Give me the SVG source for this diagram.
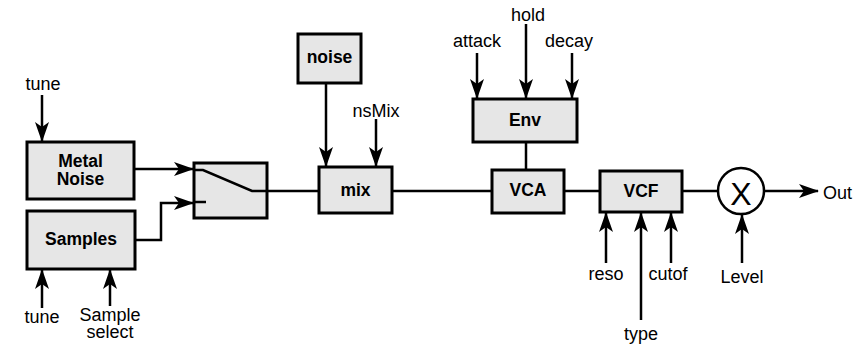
<svg xmlns="http://www.w3.org/2000/svg" width="866" height="349" viewBox="0 0 866 349">
<style>
.box{fill:#e6e6e6;stroke:#000;stroke-width:3}
.ln{fill:none;stroke:#000;stroke-width:2.5}
.bl{font-family:"Liberation Sans",Arial,sans-serif;font-weight:bold;font-size:17.5px;text-anchor:middle}
.lb{font-family:"Liberation Sans",Arial,sans-serif;font-size:18px;text-anchor:middle}
</style>
<defs>
<marker id="ah" markerUnits="userSpaceOnUse" markerWidth="22" markerHeight="16" refX="19" refY="7" orient="auto">
<path d="M0,0 L20,7 L0,14 L5,7 Z" fill="#000"/>
</marker>
</defs>
<rect width="866" height="349" fill="#fff"/>
<g id="connectors">
<path class="ln" d="M42,95 V141" marker-end="url(#ah)"/>
<path class="ln" d="M134,169 H193" marker-end="url(#ah)"/>
<path class="ln" d="M135,240 H161 V203 H193" marker-end="url(#ah)"/>
<path class="ln" d="M42,308 V270" marker-end="url(#ah)"/>
<path class="ln" d="M110,306 V270" marker-end="url(#ah)"/>
<path class="ln" d="M252,191 H319"/>
<path class="ln" d="M326,83 V166" marker-end="url(#ah)"/>
<path class="ln" d="M376,119 V166" marker-end="url(#ah)"/>
<path class="ln" d="M392,191 H492"/>
<path class="ln" d="M477,53 V98" marker-end="url(#ah)"/>
<path class="ln" d="M526,24 V98" marker-end="url(#ah)"/>
<path class="ln" d="M572,53 V98" marker-end="url(#ah)"/>
<path class="ln" d="M526,142 V170"/>
<path class="ln" d="M564,191 H600"/>
<path class="ln" d="M682,191 H718"/>
<path class="ln" d="M764,191 H818" marker-end="url(#ah)"/>
<path class="ln" d="M606,263 V213" marker-end="url(#ah)"/>
<path class="ln" d="M641,320 V213" marker-end="url(#ah)"/>
<path class="ln" d="M671,263 V213" marker-end="url(#ah)"/>
<path class="ln" d="M742,263 V215" marker-end="url(#ah)"/>
</g>
<g id="metal-noise">
<rect class="box" x="27" y="142" width="107" height="57"/>
<text class="bl" x="80.5" y="167">Metal</text>
<text class="bl" x="80.5" y="185">Noise</text>
</g>
<g id="samples">
<rect class="box" x="27" y="211" width="108" height="58"/>
<text class="bl" x="81" y="245">Samples</text>
</g>
<g id="switch">
<rect class="box" x="194" y="163" width="73" height="55"/>
<path class="ln" d="M194,170 H203 L252,191 H267"/>
<path class="ln" d="M194,202 H206"/>
</g>
<g id="noise">
<rect class="box" x="298" y="34" width="63" height="49"/>
<text class="bl" x="329.5" y="63">noise</text>
</g>
<g id="mix">
<rect class="box" x="319" y="167" width="73" height="46"/>
<text class="bl" x="355.5" y="196">mix</text>
</g>
<g id="env">
<rect class="box" x="473" y="99" width="104" height="43"/>
<text class="bl" x="525" y="126">Env</text>
</g>
<g id="vca">
<rect class="box" x="492" y="170" width="72" height="43"/>
<text class="bl" x="528" y="196">VCA</text>
</g>
<g id="vcf">
<rect class="box" x="600" y="171" width="82" height="41"/>
<text class="bl" x="641" y="197">VCF</text>
</g>
<g id="multiplier">
<circle cx="741" cy="191" r="23" fill="#fff" stroke="#000" stroke-width="2.5"/>
<text x="741" y="205" style="font-family:'Liberation Sans',Arial,sans-serif;font-size:32px;text-anchor:middle">X</text>
</g>
<g id="labels">
<text class="lb" x="43" y="90">tune</text>
<text class="lb" x="42" y="323">tune</text>
<text class="lb" x="110" y="321">Sample</text>
<text class="lb" x="110" y="338">select</text>
<text class="lb" x="376" y="117">nsMix</text>
<text class="lb" x="477" y="47">attack</text>
<text class="lb" x="528" y="21">hold</text>
<text class="lb" x="569" y="47">decay</text>
<text class="lb" x="606" y="280">reso</text>
<text class="lb" x="668" y="280">cutof</text>
<text class="lb" x="742" y="283">Level</text>
<text class="lb" x="641" y="340">type</text>
<text class="lb" x="823" y="199" style="text-anchor:start">Out</text>
</g>
</svg>
